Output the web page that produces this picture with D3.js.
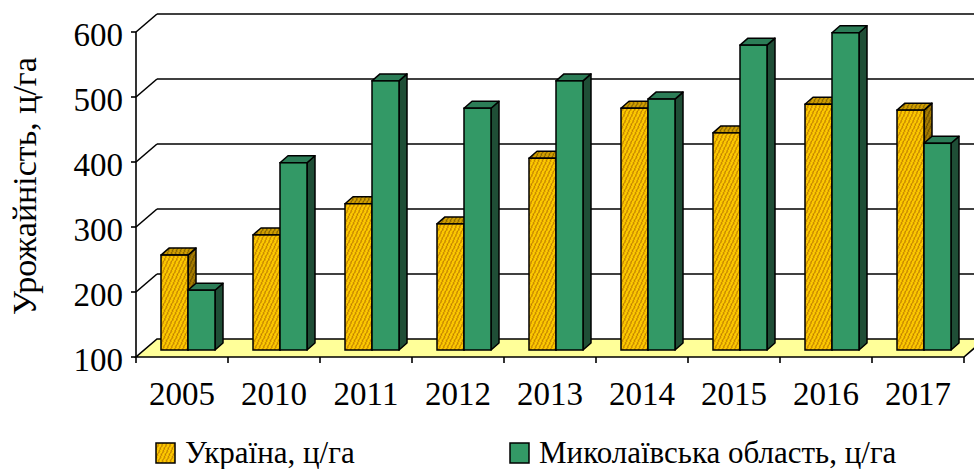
<!DOCTYPE html>
<meta charset="utf-8">
<head>
  <title>Урожайність</title>
</head>
<style>
  body { margin: 0; background: #fff; }
  .ylab { font-size: 33px; }
  .xlab { font-size: 33px; }
  .ytitle { font-size: 34px; }
  .leg { font-size: 31px; }
</style>
<body>
<script src="https://cdn.jsdelivr.net/npm/d3@7"></script>
<script>
// data
var years = ["2005", "2010", "2011", "2012", "2013", "2014", "2015", "2016", "2017"];
var ukraine = [246, 277, 325, 294, 395, 472, 434, 478, 469];
var mykolaiv = [192, 388, 514, 472, 514, 486, 569, 588, 418];
var seriesNames = ["Україна, ц/га", "Миколаївська область, ц/га"];
var yTicks = [100, 200, 300, 400, 500, 600];

var width = 974, height = 469;
var serif = "'Liberation Serif', 'DejaVu Serif', 'Times New Roman', Times, serif";

// front plane of the 3d box
var left = 136, right = 964;
var depth = {dx: 21, dy: -18};      // box depth (back wall offset)
var barShift = {dx: 7, dy: -7};     // bars stand a bit behind the front edge
var barDepth = {dx: 8, dy: -7};     // thickness of each bar

var x = d3.scaleBand().domain(years).range([left, right]).padding(0);
var y = d3.scaleLinear().domain([100, 600]).range([357, 32]);
var inner = d3.scaleBand().domain([0, 1]).range([0, 54]);

var svg = d3.select("body").append("svg")
    .attr("width", width)
    .attr("height", height)
    .style("font-family", serif);

// hatch patterns for the Ukraine bars
var defs = svg.append("defs");
function hatch(id, bg, line) {
  var p = defs.append("pattern")
      .attr("id", id)
      .attr("patternUnits", "userSpaceOnUse")
      .attr("width", 4).attr("height", 6)
      .attr("patternTransform", "skewX(-25)");
  p.append("rect").attr("width", 4).attr("height", 6).attr("fill", bg);
  p.append("path").attr("d", "M1,0 L2.2,2 L1,4 L2.2,6")
      .attr("fill", "none").attr("stroke", line).attr("stroke-width", 1.1);
}
hatch("hFront", "#FFCC00", "#B87400");
hatch("hTop", "#D4A200", "#7A5800");
hatch("hSide", "#A87D00", "#5E4400");

var colors = [
  {front: "url(#hFront)", top: "url(#hTop)", side: "url(#hSide)"},
  {front: "#339966", top: "#2C7D57", side: "#1F4E36"}
];

// back wall gridlines + diagonals on the side wall
yTicks.slice(1).forEach(function(v) {
  svg.append("line")
      .attr("x1", left + depth.dx).attr("x2", width + 30)
      .attr("y1", y(v) + depth.dy).attr("y2", y(v) + depth.dy)
      .attr("stroke", "#000").attr("stroke-width", 1.6);
  svg.append("line")
      .attr("x1", left).attr("x2", left + depth.dx)
      .attr("y1", y(v)).attr("y2", y(v) + depth.dy)
      .attr("stroke", "#000").attr("stroke-width", 1.6);
});

// floor
var y0 = y(100);
svg.append("path")
    .attr("d", "M" + left + "," + y0 + "L" + right + "," + y0 +
               "L" + (right + depth.dx) + "," + (y0 + depth.dy) +
               "L" + (left + depth.dx) + "," + (y0 + depth.dy) + "Z")
    .attr("fill", "#FFFF99")
    .attr("stroke", "#000").attr("stroke-width", 1.6);

// front value axis
svg.append("line")
    .attr("x1", left).attr("x2", left)
    .attr("y1", y(600)).attr("y2", y0)
    .attr("stroke", "#000").attr("stroke-width", 1.6);

svg.selectAll(".ytick").data(yTicks).enter().append("line")
    .attr("x1", left - 5).attr("x2", left)
    .attr("y1", function(d) { return y(d); })
    .attr("y2", function(d) { return y(d); })
    .attr("stroke", "#000").attr("stroke-width", 1.6);

svg.selectAll(".ylab").data(yTicks).enter().append("text")
    .attr("class", "ylab")
    .attr("font-family", serif)
    .attr("x", left - 13)
    .attr("y", function(d) { return y(d) + 2; })
    .attr("dy", "0.35em")
    .attr("text-anchor", "end")
    .text(function(d) { return d; });

// category ticks under the floor
svg.selectAll(".xtick").data(years.concat(["end"])).enter().append("line")
    .attr("x1", function(d, i) { return left + i * x.bandwidth(); })
    .attr("x2", function(d, i) { return left + i * x.bandwidth(); })
    .attr("y1", y0).attr("y2", y0 + 6)
    .attr("stroke", "#000").attr("stroke-width", 1.6);

svg.selectAll(".xlab").data(years).enter().append("text")
    .attr("class", "xlab")
    .attr("font-family", serif)
    .attr("x", function(d) { return x(d) + x.bandwidth() / 2; })
    .attr("y", 405)
    .attr("text-anchor", "middle")
    .text(function(d) { return d; });

// bars, left to right, Ukraine then Mykolaiv in each year
function drawBar(g, x0, w, v, c) {
  var bottom = y0 + barShift.dy, top = y(v) + barShift.dy;
  var ddx = barDepth.dx, ddy = barDepth.dy;
  // right side
  g.append("path")
      .attr("d", "M" + (x0 + w) + "," + top + "L" + (x0 + w + ddx) + "," + (top + ddy) +
                 "L" + (x0 + w + ddx) + "," + (bottom + ddy) + "L" + (x0 + w) + "," + bottom + "Z")
      .attr("fill", c.side).attr("stroke", "#000").attr("stroke-width", 1.5)
      .attr("stroke-linejoin", "round");
  // top
  g.append("path")
      .attr("d", "M" + x0 + "," + top + "L" + (x0 + ddx) + "," + (top + ddy) +
                 "L" + (x0 + w + ddx) + "," + (top + ddy) + "L" + (x0 + w) + "," + top + "Z")
      .attr("fill", c.top).attr("stroke", "#000").attr("stroke-width", 1.5)
      .attr("stroke-linejoin", "round");
  // front
  g.append("rect")
      .attr("x", x0).attr("y", top)
      .attr("width", w).attr("height", bottom - top)
      .attr("fill", c.front).attr("stroke", "#000").attr("stroke-width", 1.5);
}

var bars = svg.append("g");
years.forEach(function(yr, i) {
  var gx = x(yr) + x.bandwidth() / 2 + barShift.dx - 1 - inner.range()[1] / 2;
  [ukraine[i], mykolaiv[i]].forEach(function(v, s) {
    drawBar(bars, gx + inner(s), inner.bandwidth(), v, colors[s]);
  });
});

// y title
svg.append("text")
    .attr("class", "ytitle")
    .attr("font-family", serif)
    .attr("transform", "translate(36," + 186 + ") rotate(-90)")
    .attr("text-anchor", "middle")
    .text("Урожайність, ц/га");

// legend
var legX = [156, 510];
seriesNames.forEach(function(name, s) {
  svg.append("rect")
      .attr("x", legX[s]).attr("y", 443)
      .attr("width", 19).attr("height", 20)
      .attr("fill", colors[s].front)
      .attr("stroke", "#000").attr("stroke-width", 1.5);
  svg.append("text")
      .attr("class", "leg")
      .attr("font-family", serif)
      .attr("x", legX[s] + 29).attr("y", 463)
      .text(name);
});
</script>
</body>
